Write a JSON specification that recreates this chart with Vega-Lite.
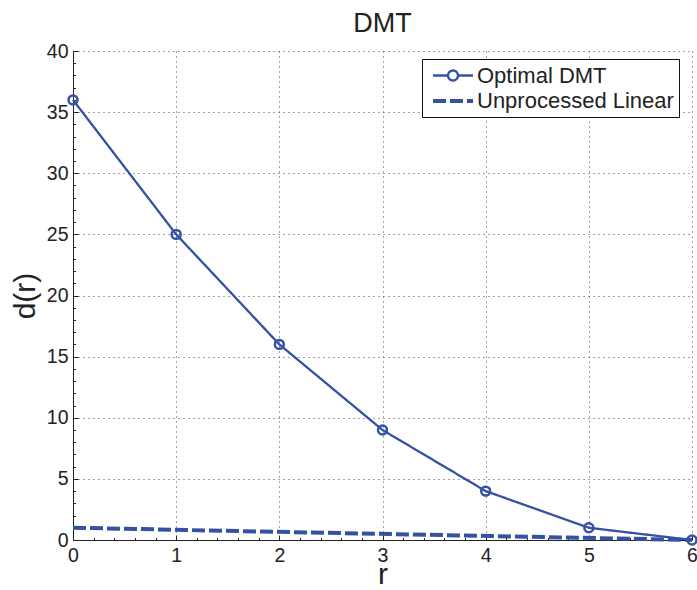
{
  "$schema": "https://vega.github.io/schema/vega-lite/v6.json",
  "width": 619,
  "height": 489,
  "autosize": {"type": "none"},
  "padding": {"left": 73, "top": 51, "right": 5, "bottom": 50},
  "background": "white",
  "title": {"text": "DMT", "fontSize": 27, "font": "Liberation Sans", "fontWeight": "normal", "color": "#222", "offset": 3},
  "config": {
    "view": {"stroke": null},
    "font": "Liberation Sans",
    "axis": {
      "domainColor": "#222",
      "tickColor": "#222",
      "labelFont": "Liberation Sans",
      "labelFontSize": 19.5,
      "labelColor": "#222",
      "titleFont": "Liberation Sans",
      "titleFontSize": 30,
      "titleFontWeight": "normal",
      "titleColor": "#222",
      "gridColor": "#444",
      "gridDash": [1, 4],
      "gridWidth": 1
    },
    "legend": {
      "title": null,
      "orient": "none",
      "legendX": 349,
      "legendY": 8,
      "strokeColor": "#111",
      "fillColor": "white",
      "padding": 5,
      "labelFontSize": 22,
      "labelFont": "Liberation Sans",
      "labelColor": "#222",
      "labelLimit": 400,
      "labelOffset": 12,
      "symbolOffset": 14,
      "symbolSize": 400,
      "symbolOpacity": 1,
      "symbolStrokeColor": "#3451a3",
      "symbolFillColor": "transparent",
      "rowPadding": 2
    }
  },
  "data": {
    "values": [
      {"series": "Optimal DMT", "r": 0, "d": 36},
      {"series": "Optimal DMT", "r": 1, "d": 25},
      {"series": "Optimal DMT", "r": 2, "d": 16},
      {"series": "Optimal DMT", "r": 3, "d": 9},
      {"series": "Optimal DMT", "r": 4, "d": 4},
      {"series": "Optimal DMT", "r": 5, "d": 1},
      {"series": "Optimal DMT", "r": 6, "d": 0},
      {"series": "Unprocessed Linear", "r": 0, "d": 1},
      {"series": "Unprocessed Linear", "r": 6, "d": 0}
    ]
  },
  "encoding": {
    "x": {
      "field": "r", "type": "quantitative",
      "scale": {"domain": [0, 6], "nice": false, "zero": false},
      "axis": {
        "title": "r",
        "values": [0,0.2,0.4,0.6,0.8,1,1.2,1.4,1.6,1.8,2,2.2,2.4,2.6,2.8,3,3.2,3.4,3.6,3.8,4,4.2,4.4,4.6,4.8,5,5.2,5.4,5.6,5.8,6],
        "labelExpr": "abs(datum.value - round(datum.value)) < 0.001 ? format(datum.value, 'd') : ''",
        "tickSize": {"condition": {"test": "abs(datum.value - round(datum.value)) < 0.001", "value": -5}, "value": -2.5},
        "gridOpacity": {"condition": {"test": "abs(datum.value - round(datum.value)) < 0.001", "value": 1}, "value": 0},
        "labelPadding": 11,
        "titlePadding": -5,
        "grid": true,
        "labelFlush": false
      }
    },
    "y": {
      "field": "d", "type": "quantitative",
      "scale": {"domain": [0, 40], "nice": false},
      "axis": {
        "title": "d(r)",
        "values": [0,1,2,3,4,5,6,7,8,9,10,11,12,13,14,15,16,17,18,19,20,21,22,23,24,25,26,27,28,29,30,31,32,33,34,35,36,37,38,39,40],
        "labelExpr": "datum.value % 5 === 0 ? datum.label : ''",
        "tickSize": {"condition": {"test": "datum.value % 5 === 0", "value": -5}, "value": -2.5},
        "gridOpacity": {"condition": {"test": "datum.value % 5 === 0", "value": 1}, "value": 0},
        "labelPadding": 10,
        "titlePadding": 6,
        "grid": true,
        "labelFlush": false
      }
    }
  },
  "layer": [
    {
      "mark": {"type": "line", "color": "#3451a3"},
      "encoding": {
        "strokeDash": {
          "field": "series", "type": "nominal",
          "scale": {"domain": ["Optimal DMT", "Unprocessed Linear"], "range": [[1, 0], [13, 4]]}
        },
        "strokeWidth": {
          "field": "series", "type": "nominal",
          "scale": {"domain": ["Optimal DMT", "Unprocessed Linear"], "range": [2.3, 4]}
        }
      }
    },
    {
      "transform": [{"filter": "datum.series === 'Optimal DMT'"}],
      "mark": {"type": "point", "filled": false, "color": "#3451a3", "strokeWidth": 2.5, "size": 80, "opacity": 1}
    },
    {
      "mark": {"type": "point", "opacity": 0, "size": 1},
      "encoding": {
        "shape": {
          "field": "series", "type": "nominal",
          "scale": {"domain": ["Optimal DMT", "Unprocessed Linear"], "range": ["M-2,0H-0.5M0.5,0H2M-0.5,0A0.5,0.5,0,1,1,0.5,0A0.5,0.5,0,1,1,-0.5,0", "M-2,0H2"]}
        }
      }
    }
  ]
}
